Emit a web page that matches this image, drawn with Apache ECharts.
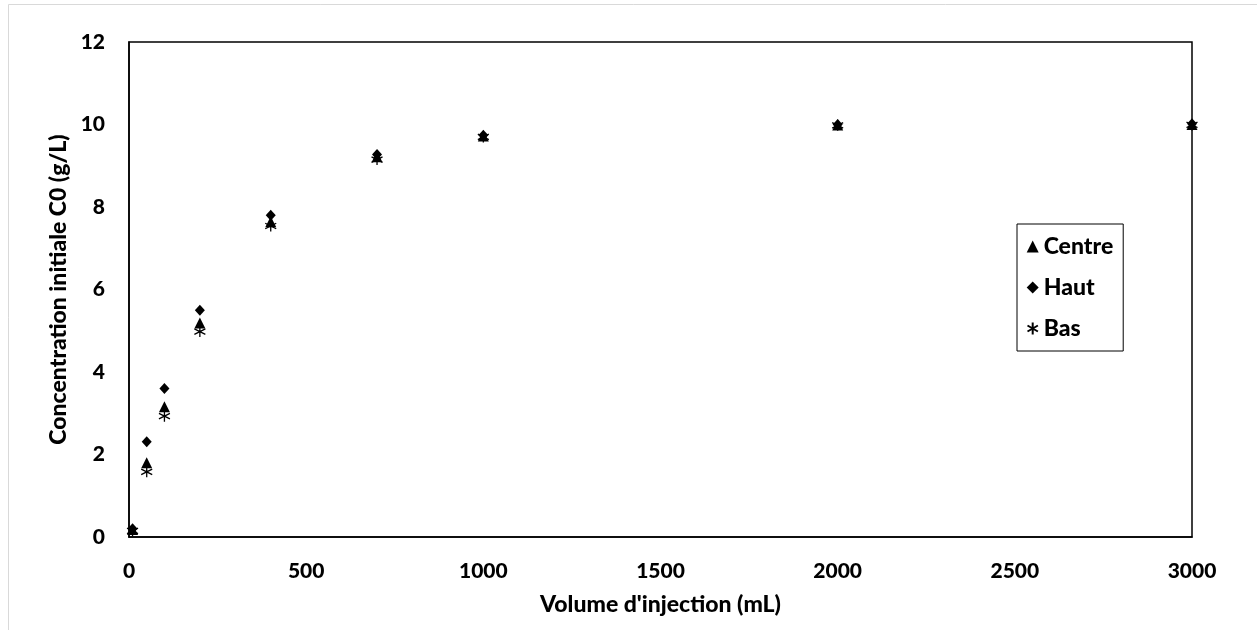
<!DOCTYPE html>
<html>
<head>
<meta charset="utf-8">
<script src="https://cdn.jsdelivr.net/npm/echarts@6/dist/echarts.min.js"></script>
<style>html,body{margin:0;padding:0;background:#fff}#c{width:1257px;height:630px}</style>
</head>
<body>
<div id="c"></div>
<script>
var volumes = [10, 50, 100, 200, 400, 700, 1000, 2000, 3000];
var centre = [0.18, 1.80, 3.16, 5.19, 7.64, 9.22, 9.72, 9.99, 10.0];
var haut   = [0.20, 2.31, 3.60, 5.50, 7.80, 9.27, 9.74, 10.0, 10.02];
var bas    = [0.15, 1.58, 2.93, 4.98, 7.54, 9.15, 9.70, 9.98, 9.99];
var xTicks = [0, 500, 1000, 1500, 2000, 2500, 3000];
var yTicks = [0, 2, 4, 6, 8, 10, 12];

function pairs(ys) { return volumes.map(function (v, i) { return [v, ys[i]]; }); }

var FONT = 'Lato';
var FW = 900;
var FS = 21;
var TS = 23;
var chart = echarts.init(document.getElementById('c'));
chart.setOption({
  animation: false,
  backgroundColor: '#fff',
  graphic: [{
    type: 'rect', silent: true,
    shape: { x: 8.5, y: 4.5, width: 1400, height: 800 },
    style: { fill: 'none', stroke: '#d9d9d9', lineWidth: 1 }
  }],
  grid: { left: 129, right: 65, top: 42, bottom: 93, show: true, borderColor: '#000', borderWidth: 1.5, backgroundColor: 'transparent' },
  legend: {
    orient: 'vertical',
    left: 1017, top: 224,
    padding: [11, 10, 11, 8],
    itemGap: 18,
    itemWidth: 12, itemHeight: 12,
    borderColor: '#000', borderWidth: 1,
    textStyle: { fontFamily: FONT, fontWeight: FW, fontSize: 23, color: '#000' },
    data: ['Centre', 'Haut', 'Bas']
  },
  xAxis: {
    type: 'value', min: xTicks[0], max: xTicks[xTicks.length - 1], interval: 500,
    name: "Volume d'injection (mL)", nameLocation: 'middle', nameGap: 56,
    nameTextStyle: { fontFamily: FONT, fontWeight: FW, fontSize: TS, color: '#000' },
    axisLine: { show: true, lineStyle: { color: '#000', width: 1.5 } },
    axisTick: { show: false },
    splitLine: { show: false },
    axisLabel: { margin: 24, fontFamily: FONT, fontWeight: FW, fontSize: FS, color: '#000', formatter: function (v) { return String(v); } }
  },
  yAxis: {
    type: 'value', min: yTicks[0], max: yTicks[yTicks.length - 1], interval: 2,
    name: 'Concentration initiale C0 (g/L)', nameLocation: 'middle', nameGap: 57,
    nameTextStyle: { fontFamily: FONT, fontWeight: FW, fontSize: TS, color: '#000' },
    axisLine: { show: true, lineStyle: { color: '#000', width: 1.5 } },
    axisTick: { show: false },
    splitLine: { show: false },
    axisLabel: { margin: 24, fontFamily: FONT, fontWeight: FW, fontSize: FS, color: '#000', formatter: function (v) { return String(v); } }
  },
  series: [
    {
      name: 'Centre', type: 'scatter', data: pairs(centre),
      symbol: 'triangle', symbolSize: 11,
      itemStyle: { color: '#000', opacity: 1 }
    },
    {
      name: 'Haut', type: 'scatter', data: pairs(haut),
      symbol: 'diamond', symbolSize: [10, 11],
      itemStyle: { color: '#000', opacity: 1 }
    },
    {
      name: 'Bas', type: 'scatter', data: pairs(bas),
      symbol: 'path://M0,-5L0,5M-4.33,-2.5L4.33,2.5M-4.33,2.5L4.33,-2.5',
      symbolSize: 11,
      itemStyle: { color: 'none', borderColor: '#000', borderWidth: 1.3, opacity: 1 }
    }
  ]
});
</script>
</body>
</html>
